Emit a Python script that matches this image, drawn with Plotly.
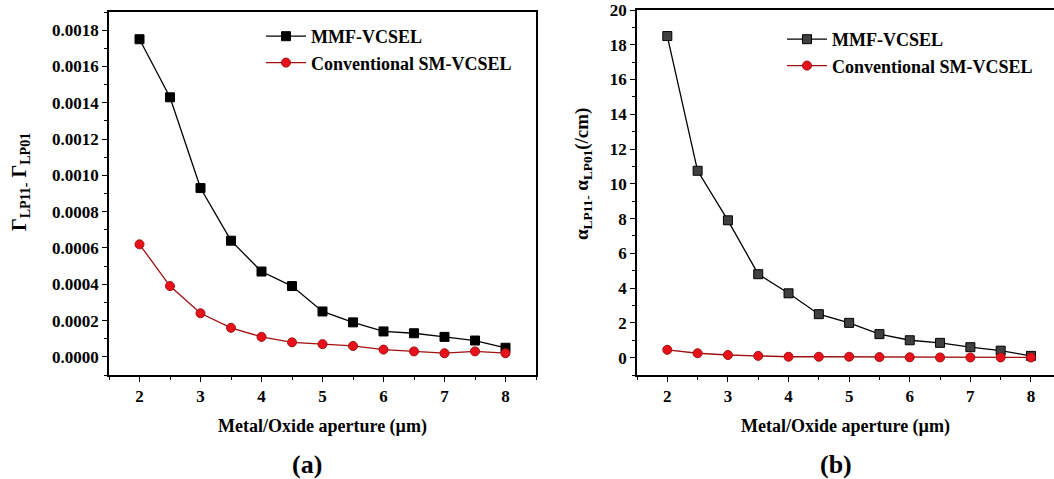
import plotly.graph_objects as go

aperture = [2, 2.5, 3, 3.5, 4, 4.5, 5, 5.5, 6, 6.5, 7, 7.5, 8]
gamma_mmf = [0.00175, 0.00143, 0.00093, 0.00064, 0.00047, 0.00039, 0.00025,
             0.00019, 0.00014, 0.00013, 0.00011, 0.00009, 0.00005]
gamma_sm = [0.00062, 0.00039, 0.00024, 0.00016, 0.00011, 0.00008, 0.00007,
            0.00006, 0.00004, 0.00003, 0.00002, 0.00003, 0.00002]
alpha_mmf = [18.5, 10.75, 7.9, 4.8, 3.7, 2.5, 2.0, 1.35, 1.0, 0.85, 0.6, 0.4, 0.1]
alpha_sm = [0.45, 0.25, 0.15, 0.1, 0.05, 0.05, 0.05, 0.03, 0.02, 0.01, 0.01, 0.01, 0.01]
series_names = ["MMF-VCSEL", "Conventional SM-VCSEL"]

FONT = "Liberation Serif"
W, H = 1054, 479

fig = go.Figure()

def add(x, y, name, color, lcolor, symbol, xa, ya, legend):
    fig.add_trace(go.Scatter(
        x=x, y=y, name=name, mode="lines+markers",
        line=dict(color=lcolor, width=1.3),
        marker=dict(symbol=symbol, size=9, color=color,
                    line=dict(color=lcolor, width=1)),
        xaxis=xa, yaxis=ya, legend=legend))

add(aperture, gamma_mmf, series_names[0], "#000000", "#000000", "square", "x", "y", "legend")
add(aperture, gamma_sm, series_names[1], "#e8101a", "#a01010", "circle", "x", "y", "legend")
add(aperture, alpha_mmf, series_names[0], "#404040", "#000000", "square", "x2", "y2", "legend2")
add(aperture, alpha_sm, series_names[1], "#e8101a", "#a01010", "circle", "x2", "y2", "legend2")

tickfont = dict(family=FONT, size=17, color="black", weight="bold")
axcommon = dict(showgrid=False, zeroline=False, showline=True, linecolor="black",
                linewidth=1.5, ticks="outside", ticklen=5, tickwidth=1.3,
                tickcolor="black", tickfont=tickfont, automargin=False)

ydom1 = [1 - 375 / H, 1 - 12 / H]
ydom2 = [1 - 375 / H, 1 - 10 / H]
xtitle_font = dict(family=FONT, size=18, weight="bold")
legfont = dict(family=FONT, size=18, weight="bold", color="black")
SUB = "<sub>%s</sub>"

fig.update_layout(
    width=W, height=H, margin=dict(l=0, r=0, t=0, b=0, autoexpand=False),
    paper_bgcolor="white", plot_bgcolor="white",
    font=dict(family=FONT, color="black"),
    xaxis=dict(domain=[109 / W, 536 / W], range=[1.5, 8.5], dtick=1, mirror=True,
               anchor="y",
               minor=dict(dtick=0.5, ticks="outside", ticklen=3, tickcolor="black"),
               title=dict(text="Metal/Oxide aperture (µm)", font=xtitle_font, standoff=14),
               **axcommon),
    yaxis=dict(domain=ydom1, range=[-0.0001, 0.0019], dtick=0.0002, tickformat=".4f",
               mirror=True, anchor="x",
               minor=dict(dtick=0.0001, ticks="outside", ticklen=3, tickcolor="black"),
               **axcommon),
    xaxis2=dict(domain=[637 / W, 1.0], range=[1.5, 8.38], dtick=1, mirror=True,
                anchor="y2",
                minor=dict(dtick=0.5, ticks="outside", ticklen=3, tickcolor="black"),
                title=dict(text="Metal/Oxide aperture (µm)", font=xtitle_font, standoff=14),
                **axcommon),
    yaxis2=dict(domain=ydom2, range=[-1, 20], dtick=2, anchor="x2",
                minor=dict(dtick=1, ticks="outside", ticklen=3, tickcolor="black"),
                **axcommon),
    legend=dict(x=261 / W, y=1 - 18 / H, xanchor="left", yanchor="top",
                bgcolor="rgba(0,0,0,0)", font=legfont,
                tracegroupgap=0, itemwidth=40),
    legend2=dict(x=782 / W, y=1 - 21 / H, xanchor="left", yanchor="top",
                 bgcolor="rgba(0,0,0,0)", font=legfont,
                 tracegroupgap=0, itemwidth=40),
    annotations=[
        dict(text="Γ" + SUB % "LP11-" + " Γ" + SUB % "LP01",
             x=20 / W, y=1 - 182 / H, xref="paper", yref="paper", textangle=-90,
             xanchor="center", yanchor="middle", showarrow=False,
             font=dict(family=FONT, size=20, weight="bold")),
        dict(text="α" + SUB % "LP11-" + " α" + SUB % "LP01" + "(/cm)",
             x=583 / W, y=1 - 174 / H, xref="paper", yref="paper", textangle=-90,
             xanchor="center", yanchor="middle", showarrow=False,
             font=dict(family=FONT, size=19, weight="bold")),
        dict(text="(a)", x=307 / W, y=1 - 464 / H, xref="paper", yref="paper",
             xanchor="center", yanchor="middle", showarrow=False,
             font=dict(family=FONT, size=26, weight="bold")),
        dict(text="(b)", x=836 / W, y=1 - 464 / H, xref="paper", yref="paper",
             xanchor="center", yanchor="middle", showarrow=False,
             font=dict(family=FONT, size=26, weight="bold")),
    ],
)

fig.write_html("out.html")
